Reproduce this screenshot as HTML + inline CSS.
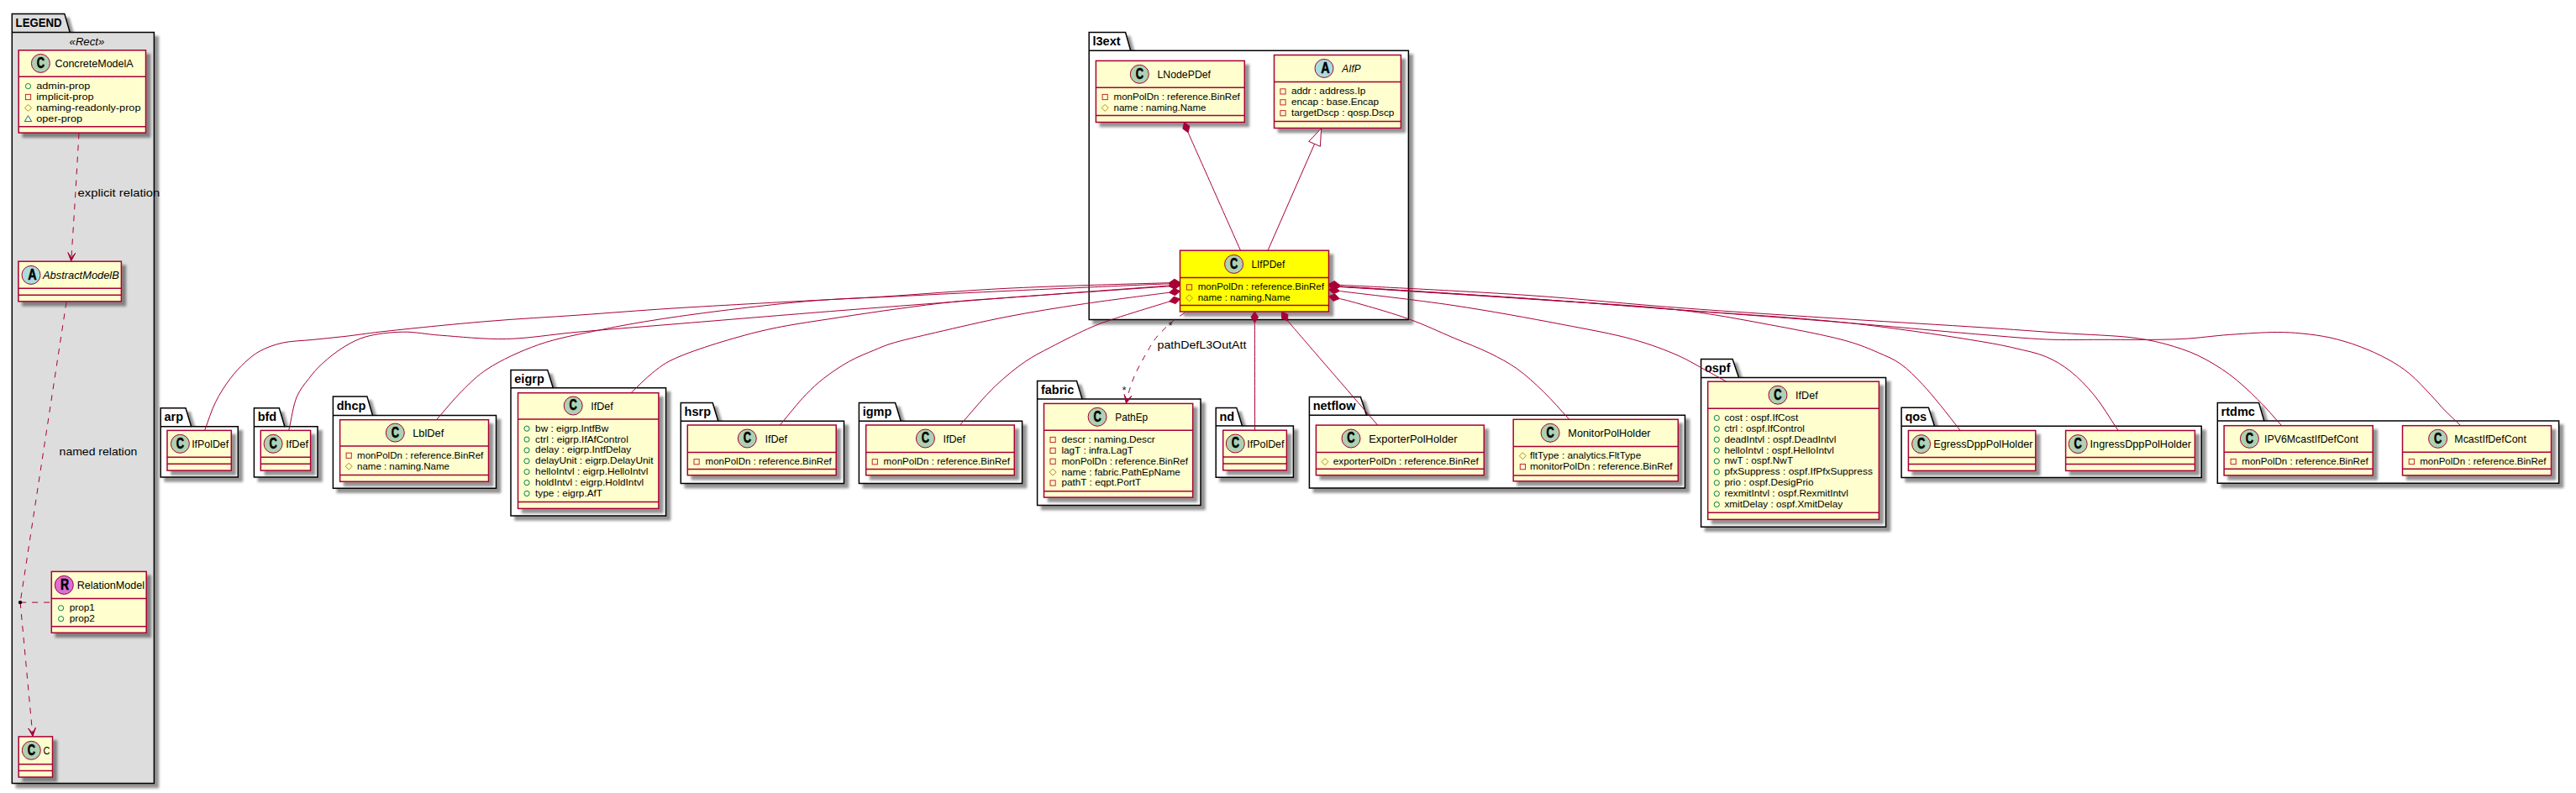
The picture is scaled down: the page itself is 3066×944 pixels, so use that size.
<!DOCTYPE html>
<html><head><meta charset="utf-8"><style>
html,body{margin:0;padding:0;background:#FFFFFF;}
svg{display:block;}
</style></head><body>
<svg width="3066" height="944" viewBox="0 0 3066 944">
<rect x="0" y="0" width="3066" height="944" fill="#FFFFFF"/>
<defs><filter id="sh" x="-20%" y="-20%" width="140%" height="140%">
<feGaussianBlur in="SourceAlpha" stdDeviation="1.6"/>
<feColorMatrix type="matrix" values="0 0 0 0 0  0 0 0 0 0  0 0 0 0 0  0 0 0 .42 0" result="b"/>
<feOffset dx="4.5" dy="4.5" result="o"/>
<feMerge><feMergeNode in="o"/><feMergeNode in="SourceGraphic"/></feMerge>
</filter></defs>
<g font-family='"Liberation Sans", sans-serif'>
<path d="M14.3,16.4 L76.8,16.4 L83.2,38.4 L183.4,38.4 L183.4,932.6 L14.3,932.6 Z" fill="#DDDDDD" stroke="#000" stroke-width="1.5" filter="url(#sh)"/>
<line x1="14.3" y1="38.4" x2="83.2" y2="38.4" stroke="#000" stroke-width="1.5"/>
<text x="18.6" y="32.1" font-size="14.5" font-weight="bold" font-style="normal" text-anchor="start" fill="#000" textLength="54.9" lengthAdjust="spacingAndGlyphs">LEGEND</text>
<path d="M1296.2,38.5 L1339.6,38.5 L1345.7,60.3 L1676.4,60.3 L1676.4,380.4 L1296.2,380.4 Z" fill="#FFFFFF" stroke="#000" stroke-width="1.5" filter="url(#sh)"/>
<line x1="1296.2" y1="60.3" x2="1345.7" y2="60.3" stroke="#000" stroke-width="1.5"/>
<text x="1300.5" y="54.0" font-size="14.5" font-weight="bold" font-style="normal" text-anchor="start" fill="#000">l3ext</text>
<path d="M191.2,485.7 L221.0,485.7 L227.7,507.7 L283.3,507.7 L283.3,568.0 L191.2,568.0 Z" fill="#FFFFFF" stroke="#000" stroke-width="1.5" filter="url(#sh)"/>
<line x1="191.2" y1="507.7" x2="227.7" y2="507.7" stroke="#000" stroke-width="1.5"/>
<text x="195.5" y="501.4" font-size="14.5" font-weight="bold" font-style="normal" text-anchor="start" fill="#000">arp</text>
<path d="M302.4,485.7 L332.3,485.7 L338.9,507.7 L378.0,507.7 L378.0,568.0 L302.4,568.0 Z" fill="#FFFFFF" stroke="#000" stroke-width="1.5" filter="url(#sh)"/>
<line x1="302.4" y1="507.7" x2="338.9" y2="507.7" stroke="#000" stroke-width="1.5"/>
<text x="306.7" y="501.4" font-size="14.5" font-weight="bold" font-style="normal" text-anchor="start" fill="#000">bfd</text>
<path d="M396.4,471.9 L436.9,471.9 L443.5,494.4 L590.5,494.4 L590.5,581.3 L396.4,581.3 Z" fill="#FFFFFF" stroke="#000" stroke-width="1.5" filter="url(#sh)"/>
<line x1="396.4" y1="494.4" x2="443.5" y2="494.4" stroke="#000" stroke-width="1.5"/>
<text x="400.7" y="488.1" font-size="14.5" font-weight="bold" font-style="normal" text-anchor="start" fill="#000">dhcp</text>
<path d="M608.0,440.4 L651.7,440.4 L658.3,461.8 L792.6,461.8 L792.6,614.1 L608.0,614.1 Z" fill="#FFFFFF" stroke="#000" stroke-width="1.5" filter="url(#sh)"/>
<line x1="608.0" y1="461.8" x2="658.3" y2="461.8" stroke="#000" stroke-width="1.5"/>
<text x="612.3" y="455.5" font-size="14.5" font-weight="bold" font-style="normal" text-anchor="start" fill="#000">eigrp</text>
<path d="M810.3,479.6 L848.2,479.6 L854.8,501.3 L1004.5,501.3 L1004.5,575.5 L810.3,575.5 Z" fill="#FFFFFF" stroke="#000" stroke-width="1.5" filter="url(#sh)"/>
<line x1="810.3" y1="501.3" x2="854.8" y2="501.3" stroke="#000" stroke-width="1.5"/>
<text x="814.6" y="495.0" font-size="14.5" font-weight="bold" font-style="normal" text-anchor="start" fill="#000">hsrp</text>
<path d="M1022.4,479.6 L1065.6,479.6 L1072.2,501.3 L1216.6,501.3 L1216.6,575.5 L1022.4,575.5 Z" fill="#FFFFFF" stroke="#000" stroke-width="1.5" filter="url(#sh)"/>
<line x1="1022.4" y1="501.3" x2="1072.2" y2="501.3" stroke="#000" stroke-width="1.5"/>
<text x="1026.7" y="495.0" font-size="14.5" font-weight="bold" font-style="normal" text-anchor="start" fill="#000">igmp</text>
<path d="M1234.6,453.6 L1281.5,453.6 L1288.0,475.1 L1429.0,475.1 L1429.0,601.4 L1234.6,601.4 Z" fill="#FFFFFF" stroke="#000" stroke-width="1.5" filter="url(#sh)"/>
<line x1="1234.6" y1="475.1" x2="1288.0" y2="475.1" stroke="#000" stroke-width="1.5"/>
<text x="1238.9" y="468.8" font-size="14.5" font-weight="bold" font-style="normal" text-anchor="start" fill="#000">fabric</text>
<path d="M1447.2,485.4 L1471.8,485.4 L1478.5,506.9 L1539.4,506.9 L1539.4,568.3 L1447.2,568.3 Z" fill="#FFFFFF" stroke="#000" stroke-width="1.5" filter="url(#sh)"/>
<line x1="1447.2" y1="506.9" x2="1478.5" y2="506.9" stroke="#000" stroke-width="1.5"/>
<text x="1451.5" y="500.6" font-size="14.5" font-weight="bold" font-style="normal" text-anchor="start" fill="#000">nd</text>
<path d="M1558.4,472.4 L1619.4,472.4 L1626.5,494.2 L2005.5,494.2 L2005.5,581.0 L1558.4,581.0 Z" fill="#FFFFFF" stroke="#000" stroke-width="1.5" filter="url(#sh)"/>
<line x1="1558.4" y1="494.2" x2="1626.5" y2="494.2" stroke="#000" stroke-width="1.5"/>
<text x="1562.7" y="487.9" font-size="14.5" font-weight="bold" font-style="normal" text-anchor="start" fill="#000">netflow</text>
<path d="M2024.6,427.6 L2062.1,427.6 L2069.6,449.4 L2244.6,449.4 L2244.6,627.3 L2024.6,627.3 Z" fill="#FFFFFF" stroke="#000" stroke-width="1.5" filter="url(#sh)"/>
<line x1="2024.6" y1="449.4" x2="2069.6" y2="449.4" stroke="#000" stroke-width="1.5"/>
<text x="2028.9" y="443.1" font-size="14.5" font-weight="bold" font-style="normal" text-anchor="start" fill="#000">ospf</text>
<path d="M2263.1,485.2 L2295.4,485.2 L2302.5,507.2 L2620.2,507.2 L2620.2,568.4 L2263.1,568.4 Z" fill="#FFFFFF" stroke="#000" stroke-width="1.5" filter="url(#sh)"/>
<line x1="2263.1" y1="507.2" x2="2302.5" y2="507.2" stroke="#000" stroke-width="1.5"/>
<text x="2267.4" y="500.9" font-size="14.5" font-weight="bold" font-style="normal" text-anchor="start" fill="#000">qos</text>
<path d="M2639.3,479.4 L2688.5,479.4 L2694.8,500.9 L3045.6,500.9 L3045.6,575.2 L2639.3,575.2 Z" fill="#FFFFFF" stroke="#000" stroke-width="1.5" filter="url(#sh)"/>
<line x1="2639.3" y1="500.9" x2="2694.8" y2="500.9" stroke="#000" stroke-width="1.5"/>
<text x="2643.6" y="494.6" font-size="14.5" font-weight="bold" font-style="normal" text-anchor="start" fill="#000">rtdmc</text>
<text x="82.6" y="53.7" font-size="13" font-weight="normal" font-style="italic" text-anchor="start" fill="#000" textLength="41.6" lengthAdjust="spacingAndGlyphs">«Rect»</text>
<rect x="22.2" y="59.8" width="151.3" height="98.3" fill="#FEFECE" stroke="#A80036" stroke-width="1.5" filter="url(#sh)"/>
<line x1="22.2" y1="91.3" x2="173.5" y2="91.3" stroke="#A80036" stroke-width="1.5"/>
<line x1="22.2" y1="150.8" x2="173.5" y2="150.8" stroke="#A80036" stroke-width="1.5"/>
<circle cx="48.4" cy="75.4" r="11" fill="#ADD1B2" stroke="#A80036" stroke-width="1"/>
<text transform="translate(48.40,80.80) scale(0.72,1)" x="-6.5" y="0" font-size="17.9" font-weight="bold" fill="#000" stroke="#000" stroke-width="0.55">C</text>
<text x="65.4" y="80.4" font-size="13.3" font-weight="normal" font-style="normal" text-anchor="start" fill="#000" textLength="93.3" lengthAdjust="spacingAndGlyphs">ConcreteModelA</text>
<circle cx="33.5" cy="102.6" r="3.1" fill="none" stroke="#038048" stroke-width="1"/>
<text x="43.3" y="106.0" font-size="11.5" font-weight="normal" font-style="normal" text-anchor="start" fill="#000" textLength="64.0" lengthAdjust="spacingAndGlyphs">admin-prop</text>
<rect x="30.4" y="112.4" width="6.2" height="6.2" fill="none" stroke="#C82930" stroke-width="1"/>
<text x="43.3" y="118.9" font-size="11.5" font-weight="normal" font-style="normal" text-anchor="start" fill="#000" textLength="68.2" lengthAdjust="spacingAndGlyphs">implicit-prop</text>
<path d="M33.5,124.4 L37.5,128.4 L33.5,132.4 L29.5,128.4 Z" fill="none" stroke="#B38D22" stroke-width="1"/>
<text x="43.3" y="131.8" font-size="11.5" font-weight="normal" font-style="normal" text-anchor="start" fill="#000" textLength="124.2" lengthAdjust="spacingAndGlyphs">naming-readonly-prop</text>
<path d="M33.5,137.6 L37.7,144.6 L29.3,144.6 Z" fill="none" stroke="#1963A0" stroke-width="1"/>
<text x="43.3" y="144.6" font-size="11.5" font-weight="normal" font-style="normal" text-anchor="start" fill="#000" textLength="54.8" lengthAdjust="spacingAndGlyphs">oper-prop</text>
<rect x="21.9" y="311.2" width="122.5" height="47.6" fill="#FEFECE" stroke="#A80036" stroke-width="1.5" filter="url(#sh)"/>
<line x1="21.9" y1="343.3" x2="144.4" y2="343.3" stroke="#A80036" stroke-width="1.5"/>
<line x1="21.9" y1="351.3" x2="144.4" y2="351.3" stroke="#A80036" stroke-width="1.5"/>
<circle cx="37.0" cy="327.4" r="11" fill="#A9DCDF" stroke="#A80036" stroke-width="1"/>
<text transform="translate(38.30,332.80) scale(0.8,1)" x="-6.4" y="0" font-size="17.9" font-weight="bold" fill="#000" stroke="#000" stroke-width="0.55">A</text>
<text x="51.0" y="331.8" font-size="13.3" font-weight="normal" font-style="italic" text-anchor="start" fill="#000" textLength="90.8" lengthAdjust="spacingAndGlyphs">AbstractModelB</text>
<rect x="61.3" y="680.4" width="112.9" height="72.9" fill="#FEFECE" stroke="#A80036" stroke-width="1.5" filter="url(#sh)"/>
<line x1="61.3" y1="712.5" x2="174.2" y2="712.5" stroke="#A80036" stroke-width="1.5"/>
<line x1="61.3" y1="745.8" x2="174.2" y2="745.8" stroke="#A80036" stroke-width="1.5"/>
<circle cx="76.3" cy="696.4" r="11" fill="#DA70D6" stroke="#A80036" stroke-width="1"/>
<text transform="translate(77.30,701.80) scale(0.78,1)" x="-6.8" y="0" font-size="17.9" font-weight="bold" fill="#000" stroke="#000" stroke-width="0.55">R</text>
<text x="91.7" y="701.0" font-size="13.3" font-weight="normal" font-style="normal" text-anchor="start" fill="#000" textLength="80.4" lengthAdjust="spacingAndGlyphs">RelationModel</text>
<circle cx="72.6" cy="723.8" r="3.1" fill="none" stroke="#038048" stroke-width="1"/>
<text x="82.8" y="727.2" font-size="11.5" font-weight="normal" font-style="normal" text-anchor="start" fill="#000" textLength="30.1" lengthAdjust="spacingAndGlyphs">prop1</text>
<circle cx="72.6" cy="736.7" r="3.1" fill="none" stroke="#038048" stroke-width="1"/>
<text x="82.8" y="740.1" font-size="11.5" font-weight="normal" font-style="normal" text-anchor="start" fill="#000" textLength="30.1" lengthAdjust="spacingAndGlyphs">prop2</text>
<rect x="22.2" y="876.9" width="40.3" height="48.2" fill="#FEFECE" stroke="#A80036" stroke-width="1.5" filter="url(#sh)"/>
<line x1="22.2" y1="909.7" x2="62.5" y2="909.7" stroke="#A80036" stroke-width="1.5"/>
<line x1="22.2" y1="917.5" x2="62.5" y2="917.5" stroke="#A80036" stroke-width="1.5"/>
<circle cx="37.3" cy="893.3" r="11" fill="#ADD1B2" stroke="#A80036" stroke-width="1"/>
<text transform="translate(37.30,898.70) scale(0.72,1)" x="-6.5" y="0" font-size="17.9" font-weight="bold" fill="#000" stroke="#000" stroke-width="0.55">C</text>
<text x="51.5" y="897.5" font-size="13.3" font-weight="normal" font-style="normal" text-anchor="start" fill="#000" textLength="8.0" lengthAdjust="spacingAndGlyphs">C</text>
<rect x="1304.4" y="72.4" width="176.9" height="73.1" fill="#FEFECE" stroke="#A80036" stroke-width="1.5" filter="url(#sh)"/>
<line x1="1304.4" y1="104.2" x2="1481.3" y2="104.2" stroke="#A80036" stroke-width="1.5"/>
<line x1="1304.4" y1="137.5" x2="1481.3" y2="137.5" stroke="#A80036" stroke-width="1.5"/>
<circle cx="1356.3" cy="88.3" r="11" fill="#ADD1B2" stroke="#A80036" stroke-width="1"/>
<text transform="translate(1356.30,93.70) scale(0.72,1)" x="-6.5" y="0" font-size="17.9" font-weight="bold" fill="#000" stroke="#000" stroke-width="0.55">C</text>
<text x="1377.5" y="93.0" font-size="13.3" font-weight="normal" font-style="normal" text-anchor="start" fill="#000" textLength="63.5" lengthAdjust="spacingAndGlyphs">LNodePDef</text>
<rect x="1312.1" y="112.4" width="6.2" height="6.2" fill="none" stroke="#C82930" stroke-width="1"/>
<text x="1325.5" y="118.9" font-size="11.5" font-weight="normal" font-style="normal" text-anchor="start" fill="#000" textLength="150.3" lengthAdjust="spacingAndGlyphs">monPolDn : reference.BinRef</text>
<path d="M1315.2,124.4 L1319.2,128.4 L1315.2,132.4 L1311.2,128.4 Z" fill="none" stroke="#B38D22" stroke-width="1"/>
<text x="1325.5" y="131.8" font-size="11.5" font-weight="normal" font-style="normal" text-anchor="start" fill="#000" textLength="110.0" lengthAdjust="spacingAndGlyphs">name : naming.Name</text>
<rect x="1516.5" y="65.5" width="150.9" height="87.0" fill="#FEFECE" stroke="#A80036" stroke-width="1.5" filter="url(#sh)"/>
<line x1="1516.5" y1="97.6" x2="1667.4" y2="97.6" stroke="#A80036" stroke-width="1.5"/>
<line x1="1516.5" y1="144.4" x2="1667.4" y2="144.4" stroke="#A80036" stroke-width="1.5"/>
<circle cx="1576.0" cy="81.4" r="11" fill="#A9DCDF" stroke="#A80036" stroke-width="1"/>
<text transform="translate(1577.30,86.80) scale(0.8,1)" x="-6.4" y="0" font-size="17.9" font-weight="bold" fill="#000" stroke="#000" stroke-width="0.55">A</text>
<text x="1597.3" y="86.1" font-size="13.3" font-weight="normal" font-style="italic" text-anchor="start" fill="#000" textLength="22.2" lengthAdjust="spacingAndGlyphs">AIfP</text>
<rect x="1523.9" y="105.8" width="6.2" height="6.2" fill="none" stroke="#C82930" stroke-width="1"/>
<text x="1536.9" y="112.3" font-size="11.5" font-weight="normal" font-style="normal" text-anchor="start" fill="#000" textLength="88.5" lengthAdjust="spacingAndGlyphs">addr : address.Ip</text>
<rect x="1523.9" y="118.7" width="6.2" height="6.2" fill="none" stroke="#C82930" stroke-width="1"/>
<text x="1536.9" y="125.2" font-size="11.5" font-weight="normal" font-style="normal" text-anchor="start" fill="#000" textLength="104.2" lengthAdjust="spacingAndGlyphs">encap : base.Encap</text>
<rect x="1523.9" y="131.6" width="6.2" height="6.2" fill="none" stroke="#C82930" stroke-width="1"/>
<text x="1536.9" y="138.1" font-size="11.5" font-weight="normal" font-style="normal" text-anchor="start" fill="#000" textLength="122.5" lengthAdjust="spacingAndGlyphs">targetDscp : qosp.Dscp</text>
<rect x="1404.5" y="298.2" width="177.0" height="72.8" fill="#FFFF00" stroke="#A80036" stroke-width="1.5" filter="url(#sh)"/>
<line x1="1404.5" y1="330.6" x2="1581.5" y2="330.6" stroke="#A80036" stroke-width="1.5"/>
<line x1="1404.5" y1="363.4" x2="1581.5" y2="363.4" stroke="#A80036" stroke-width="1.5"/>
<circle cx="1468.6" cy="314.4" r="11" fill="#ADD1B2" stroke="#A80036" stroke-width="1"/>
<text transform="translate(1468.60,319.80) scale(0.72,1)" x="-6.5" y="0" font-size="17.9" font-weight="bold" fill="#000" stroke="#000" stroke-width="0.55">C</text>
<text x="1489.4" y="318.8" font-size="13.3" font-weight="normal" font-style="normal" text-anchor="start" fill="#000" textLength="39.9" lengthAdjust="spacingAndGlyphs">LIfPDef</text>
<rect x="1412.4" y="338.8" width="6.2" height="6.2" fill="none" stroke="#C82930" stroke-width="1"/>
<text x="1425.7" y="345.3" font-size="11.5" font-weight="normal" font-style="normal" text-anchor="start" fill="#000" textLength="150.3" lengthAdjust="spacingAndGlyphs">monPolDn : reference.BinRef</text>
<path d="M1415.5,350.8 L1419.5,354.8 L1415.5,358.8 L1411.5,354.8 Z" fill="none" stroke="#B38D22" stroke-width="1"/>
<text x="1425.7" y="358.2" font-size="11.5" font-weight="normal" font-style="normal" text-anchor="start" fill="#000" textLength="110.0" lengthAdjust="spacingAndGlyphs">name : naming.Name</text>
<rect x="199.0" y="512.4" width="76.3" height="47.7" fill="#FEFECE" stroke="#A80036" stroke-width="1.5" filter="url(#sh)"/>
<line x1="199.0" y1="544.2" x2="275.3" y2="544.2" stroke="#A80036" stroke-width="1.5"/>
<line x1="199.0" y1="552.2" x2="275.3" y2="552.2" stroke="#A80036" stroke-width="1.5"/>
<circle cx="214.4" cy="528.3" r="11" fill="#ADD1B2" stroke="#A80036" stroke-width="1"/>
<text transform="translate(214.40,533.70) scale(0.72,1)" x="-6.5" y="0" font-size="17.9" font-weight="bold" fill="#000" stroke="#000" stroke-width="0.55">C</text>
<text x="228.2" y="533.0" font-size="13.3" font-weight="normal" font-style="normal" text-anchor="start" fill="#000" textLength="44.0" lengthAdjust="spacingAndGlyphs">IfPolDef</text>
<rect x="310.3" y="512.4" width="59.3" height="47.7" fill="#FEFECE" stroke="#A80036" stroke-width="1.5" filter="url(#sh)"/>
<line x1="310.3" y1="544.2" x2="369.6" y2="544.2" stroke="#A80036" stroke-width="1.5"/>
<line x1="310.3" y1="552.2" x2="369.6" y2="552.2" stroke="#A80036" stroke-width="1.5"/>
<circle cx="325.1" cy="528.3" r="11" fill="#ADD1B2" stroke="#A80036" stroke-width="1"/>
<text transform="translate(325.10,533.70) scale(0.72,1)" x="-6.5" y="0" font-size="17.9" font-weight="bold" fill="#000" stroke="#000" stroke-width="0.55">C</text>
<text x="340.2" y="533.0" font-size="13.3" font-weight="normal" font-style="normal" text-anchor="start" fill="#000" textLength="26.8" lengthAdjust="spacingAndGlyphs">IfDef</text>
<rect x="404.6" y="499.7" width="176.9" height="73.6" fill="#FEFECE" stroke="#A80036" stroke-width="1.5" filter="url(#sh)"/>
<line x1="404.6" y1="531.0" x2="581.5" y2="531.0" stroke="#A80036" stroke-width="1.5"/>
<line x1="404.6" y1="565.4" x2="581.5" y2="565.4" stroke="#A80036" stroke-width="1.5"/>
<circle cx="470.3" cy="515.1" r="11" fill="#ADD1B2" stroke="#A80036" stroke-width="1"/>
<text transform="translate(470.30,520.50) scale(0.72,1)" x="-6.5" y="0" font-size="17.9" font-weight="bold" fill="#000" stroke="#000" stroke-width="0.55">C</text>
<text x="491.2" y="520.3" font-size="13.3" font-weight="normal" font-style="normal" text-anchor="start" fill="#000" textLength="37.1" lengthAdjust="spacingAndGlyphs">LblDef</text>
<rect x="412.1" y="539.2" width="6.2" height="6.2" fill="none" stroke="#C82930" stroke-width="1"/>
<text x="425.0" y="545.7" font-size="11.5" font-weight="normal" font-style="normal" text-anchor="start" fill="#000" textLength="150.3" lengthAdjust="spacingAndGlyphs">monPolDn : reference.BinRef</text>
<path d="M415.2,551.2 L419.2,555.2 L415.2,559.2 L411.2,555.2 Z" fill="none" stroke="#B38D22" stroke-width="1"/>
<text x="425.0" y="558.6" font-size="11.5" font-weight="normal" font-style="normal" text-anchor="start" fill="#000" textLength="110.0" lengthAdjust="spacingAndGlyphs">name : naming.Name</text>
<rect x="616.5" y="467.7" width="167.4" height="137.7" fill="#FEFECE" stroke="#A80036" stroke-width="1.5" filter="url(#sh)"/>
<line x1="616.5" y1="498.9" x2="783.9" y2="498.9" stroke="#A80036" stroke-width="1.5"/>
<line x1="616.5" y1="597.4" x2="783.9" y2="597.4" stroke="#A80036" stroke-width="1.5"/>
<circle cx="682.2" cy="483.0" r="11" fill="#ADD1B2" stroke="#A80036" stroke-width="1"/>
<text transform="translate(682.20,488.40) scale(0.72,1)" x="-6.5" y="0" font-size="17.9" font-weight="bold" fill="#000" stroke="#000" stroke-width="0.55">C</text>
<text x="703.3" y="488.3" font-size="13.3" font-weight="normal" font-style="normal" text-anchor="start" fill="#000" textLength="26.5" lengthAdjust="spacingAndGlyphs">IfDef</text>
<circle cx="627.0" cy="510.2" r="3.1" fill="none" stroke="#038048" stroke-width="1"/>
<text x="637.1" y="513.6" font-size="11.5" font-weight="normal" font-style="normal" text-anchor="start" fill="#000" textLength="87.1" lengthAdjust="spacingAndGlyphs">bw : eigrp.IntfBw</text>
<circle cx="627.0" cy="523.1" r="3.1" fill="none" stroke="#038048" stroke-width="1"/>
<text x="637.1" y="526.5" font-size="11.5" font-weight="normal" font-style="normal" text-anchor="start" fill="#000" textLength="110.7" lengthAdjust="spacingAndGlyphs">ctrl : eigrp.IfAfControl</text>
<circle cx="627.0" cy="536.0" r="3.1" fill="none" stroke="#038048" stroke-width="1"/>
<text x="637.1" y="539.4" font-size="11.5" font-weight="normal" font-style="normal" text-anchor="start" fill="#000" textLength="114.0" lengthAdjust="spacingAndGlyphs">delay : eigrp.IntfDelay</text>
<circle cx="627.0" cy="548.8" r="3.1" fill="none" stroke="#038048" stroke-width="1"/>
<text x="637.1" y="552.2" font-size="11.5" font-weight="normal" font-style="normal" text-anchor="start" fill="#000" textLength="140.4" lengthAdjust="spacingAndGlyphs">delayUnit : eigrp.DelayUnit</text>
<circle cx="627.0" cy="561.7" r="3.1" fill="none" stroke="#038048" stroke-width="1"/>
<text x="637.1" y="565.1" font-size="11.5" font-weight="normal" font-style="normal" text-anchor="start" fill="#000" textLength="134.3" lengthAdjust="spacingAndGlyphs">helloIntvl : eigrp.HelloIntvl</text>
<circle cx="627.0" cy="574.6" r="3.1" fill="none" stroke="#038048" stroke-width="1"/>
<text x="637.1" y="578.0" font-size="11.5" font-weight="normal" font-style="normal" text-anchor="start" fill="#000" textLength="129.1" lengthAdjust="spacingAndGlyphs">holdIntvl : eigrp.HoldIntvl</text>
<circle cx="627.0" cy="587.5" r="3.1" fill="none" stroke="#038048" stroke-width="1"/>
<text x="637.1" y="590.9" font-size="11.5" font-weight="normal" font-style="normal" text-anchor="start" fill="#000" textLength="79.9" lengthAdjust="spacingAndGlyphs">type : eigrp.AfT</text>
<rect x="818.3" y="506.0" width="176.9" height="59.7" fill="#FEFECE" stroke="#A80036" stroke-width="1.5" filter="url(#sh)"/>
<line x1="818.3" y1="538.4" x2="995.2" y2="538.4" stroke="#A80036" stroke-width="1.5"/>
<line x1="818.3" y1="558.5" x2="995.2" y2="558.5" stroke="#A80036" stroke-width="1.5"/>
<circle cx="889.3" cy="522.0" r="11" fill="#ADD1B2" stroke="#A80036" stroke-width="1"/>
<text transform="translate(889.30,527.40) scale(0.72,1)" x="-6.5" y="0" font-size="17.9" font-weight="bold" fill="#000" stroke="#000" stroke-width="0.55">C</text>
<text x="910.4" y="526.6" font-size="13.3" font-weight="normal" font-style="normal" text-anchor="start" fill="#000" textLength="26.6" lengthAdjust="spacingAndGlyphs">IfDef</text>
<rect x="826.0" y="546.6" width="6.2" height="6.2" fill="none" stroke="#C82930" stroke-width="1"/>
<text x="839.5" y="553.1" font-size="11.5" font-weight="normal" font-style="normal" text-anchor="start" fill="#000" textLength="150.3" lengthAdjust="spacingAndGlyphs">monPolDn : reference.BinRef</text>
<rect x="1030.7" y="506.0" width="176.6" height="59.7" fill="#FEFECE" stroke="#A80036" stroke-width="1.5" filter="url(#sh)"/>
<line x1="1030.7" y1="538.4" x2="1207.3" y2="538.4" stroke="#A80036" stroke-width="1.5"/>
<line x1="1030.7" y1="558.5" x2="1207.3" y2="558.5" stroke="#A80036" stroke-width="1.5"/>
<circle cx="1101.4" cy="522.0" r="11" fill="#ADD1B2" stroke="#A80036" stroke-width="1"/>
<text transform="translate(1101.40,527.40) scale(0.72,1)" x="-6.5" y="0" font-size="17.9" font-weight="bold" fill="#000" stroke="#000" stroke-width="0.55">C</text>
<text x="1122.6" y="526.6" font-size="13.3" font-weight="normal" font-style="normal" text-anchor="start" fill="#000" textLength="26.4" lengthAdjust="spacingAndGlyphs">IfDef</text>
<rect x="1038.2" y="546.6" width="6.2" height="6.2" fill="none" stroke="#C82930" stroke-width="1"/>
<text x="1051.6" y="553.1" font-size="11.5" font-weight="normal" font-style="normal" text-anchor="start" fill="#000" textLength="150.3" lengthAdjust="spacingAndGlyphs">monPolDn : reference.BinRef</text>
<rect x="1242.5" y="480.4" width="177.2" height="111.7" fill="#FEFECE" stroke="#A80036" stroke-width="1.5" filter="url(#sh)"/>
<line x1="1242.5" y1="512.2" x2="1419.7" y2="512.2" stroke="#A80036" stroke-width="1.5"/>
<line x1="1242.5" y1="584.7" x2="1419.7" y2="584.7" stroke="#A80036" stroke-width="1.5"/>
<circle cx="1306.1" cy="496.3" r="11" fill="#ADD1B2" stroke="#A80036" stroke-width="1"/>
<text transform="translate(1306.10,501.70) scale(0.72,1)" x="-6.5" y="0" font-size="17.9" font-weight="bold" fill="#000" stroke="#000" stroke-width="0.55">C</text>
<text x="1327.3" y="501.0" font-size="13.3" font-weight="normal" font-style="normal" text-anchor="start" fill="#000" textLength="38.9" lengthAdjust="spacingAndGlyphs">PathEp</text>
<rect x="1250.0" y="520.4" width="6.2" height="6.2" fill="none" stroke="#C82930" stroke-width="1"/>
<text x="1263.4" y="526.9" font-size="11.5" font-weight="normal" font-style="normal" text-anchor="start" fill="#000" textLength="111.4" lengthAdjust="spacingAndGlyphs">descr : naming.Descr</text>
<rect x="1250.0" y="533.3" width="6.2" height="6.2" fill="none" stroke="#C82930" stroke-width="1"/>
<text x="1263.4" y="539.8" font-size="11.5" font-weight="normal" font-style="normal" text-anchor="start" fill="#000" textLength="85.6" lengthAdjust="spacingAndGlyphs">lagT : infra.LagT</text>
<rect x="1250.0" y="546.2" width="6.2" height="6.2" fill="none" stroke="#C82930" stroke-width="1"/>
<text x="1263.4" y="552.7" font-size="11.5" font-weight="normal" font-style="normal" text-anchor="start" fill="#000" textLength="150.5" lengthAdjust="spacingAndGlyphs">monPolDn : reference.BinRef</text>
<path d="M1253.1,558.1 L1257.1,562.1 L1253.1,566.1 L1249.1,562.1 Z" fill="none" stroke="#B38D22" stroke-width="1"/>
<text x="1263.4" y="565.5" font-size="11.5" font-weight="normal" font-style="normal" text-anchor="start" fill="#000" textLength="141.5" lengthAdjust="spacingAndGlyphs">name : fabric.PathEpName</text>
<rect x="1250.0" y="571.9" width="6.2" height="6.2" fill="none" stroke="#C82930" stroke-width="1"/>
<text x="1263.4" y="578.4" font-size="11.5" font-weight="normal" font-style="normal" text-anchor="start" fill="#000" textLength="94.8" lengthAdjust="spacingAndGlyphs">pathT : eqpt.PortT</text>
<rect x="1455.7" y="512.2" width="75.7" height="47.6" fill="#FEFECE" stroke="#A80036" stroke-width="1.5" filter="url(#sh)"/>
<line x1="1455.7" y1="544.0" x2="1531.4" y2="544.0" stroke="#A80036" stroke-width="1.5"/>
<line x1="1455.7" y1="551.9" x2="1531.4" y2="551.9" stroke="#A80036" stroke-width="1.5"/>
<circle cx="1470.3" cy="528.0" r="11" fill="#ADD1B2" stroke="#A80036" stroke-width="1"/>
<text transform="translate(1470.30,533.40) scale(0.72,1)" x="-6.5" y="0" font-size="17.9" font-weight="bold" fill="#000" stroke="#000" stroke-width="0.55">C</text>
<text x="1484.3" y="532.8" font-size="13.3" font-weight="normal" font-style="normal" text-anchor="start" fill="#000" textLength="44.2" lengthAdjust="spacingAndGlyphs">IfPolDef</text>
<rect x="1566.4" y="506.1" width="199.9" height="59.6" fill="#FEFECE" stroke="#A80036" stroke-width="1.5" filter="url(#sh)"/>
<line x1="1566.4" y1="538.4" x2="1766.3" y2="538.4" stroke="#A80036" stroke-width="1.5"/>
<line x1="1566.4" y1="558.2" x2="1766.3" y2="558.2" stroke="#A80036" stroke-width="1.5"/>
<circle cx="1608.0" cy="522.0" r="11" fill="#ADD1B2" stroke="#A80036" stroke-width="1"/>
<text transform="translate(1608.00,527.40) scale(0.72,1)" x="-6.5" y="0" font-size="17.9" font-weight="bold" fill="#000" stroke="#000" stroke-width="0.55">C</text>
<text x="1629.2" y="526.7" font-size="13.3" font-weight="normal" font-style="normal" text-anchor="start" fill="#000" textLength="105.4" lengthAdjust="spacingAndGlyphs">ExporterPolHolder</text>
<path d="M1577.0,545.7 L1581.0,549.7 L1577.0,553.7 L1573.0,549.7 Z" fill="none" stroke="#B38D22" stroke-width="1"/>
<text x="1586.8" y="553.1" font-size="11.5" font-weight="normal" font-style="normal" text-anchor="start" fill="#000" textLength="172.9" lengthAdjust="spacingAndGlyphs">exporterPolDn : reference.BinRef</text>
<rect x="1801.2" y="499.3" width="196.1" height="73.5" fill="#FEFECE" stroke="#A80036" stroke-width="1.5" filter="url(#sh)"/>
<line x1="1801.2" y1="531.4" x2="1997.3" y2="531.4" stroke="#A80036" stroke-width="1.5"/>
<line x1="1801.2" y1="565.9" x2="1997.3" y2="565.9" stroke="#A80036" stroke-width="1.5"/>
<circle cx="1845.1" cy="515.3" r="11" fill="#ADD1B2" stroke="#A80036" stroke-width="1"/>
<text transform="translate(1845.10,520.70) scale(0.72,1)" x="-6.5" y="0" font-size="17.9" font-weight="bold" fill="#000" stroke="#000" stroke-width="0.55">C</text>
<text x="1866.3" y="519.9" font-size="13.3" font-weight="normal" font-style="normal" text-anchor="start" fill="#000" textLength="98.3" lengthAdjust="spacingAndGlyphs">MonitorPolHolder</text>
<path d="M1812.4,538.7 L1816.4,542.7 L1812.4,546.7 L1808.4,542.7 Z" fill="none" stroke="#B38D22" stroke-width="1"/>
<text x="1820.9" y="546.1" font-size="11.5" font-weight="normal" font-style="normal" text-anchor="start" fill="#000" textLength="132.3" lengthAdjust="spacingAndGlyphs">fltType : analytics.FltType</text>
<rect x="1809.3" y="552.5" width="6.2" height="6.2" fill="none" stroke="#C82930" stroke-width="1"/>
<text x="1820.9" y="559.0" font-size="11.5" font-weight="normal" font-style="normal" text-anchor="start" fill="#000" textLength="169.7" lengthAdjust="spacingAndGlyphs">monitorPolDn : reference.BinRef</text>
<rect x="2032.7" y="454.2" width="203.7" height="164.2" fill="#FEFECE" stroke="#A80036" stroke-width="1.5" filter="url(#sh)"/>
<line x1="2032.7" y1="486.2" x2="2236.4" y2="486.2" stroke="#A80036" stroke-width="1.5"/>
<line x1="2032.7" y1="610.3" x2="2236.4" y2="610.3" stroke="#A80036" stroke-width="1.5"/>
<circle cx="2116.0" cy="470.2" r="11" fill="#ADD1B2" stroke="#A80036" stroke-width="1"/>
<text transform="translate(2116.00,475.60) scale(0.72,1)" x="-6.5" y="0" font-size="17.9" font-weight="bold" fill="#000" stroke="#000" stroke-width="0.55">C</text>
<text x="2137.1" y="474.8" font-size="13.3" font-weight="normal" font-style="normal" text-anchor="start" fill="#000" textLength="26.7" lengthAdjust="spacingAndGlyphs">IfDef</text>
<circle cx="2043.3" cy="497.5" r="3.1" fill="none" stroke="#038048" stroke-width="1"/>
<text x="2052.4" y="500.9" font-size="11.5" font-weight="normal" font-style="normal" text-anchor="start" fill="#000" textLength="87.8" lengthAdjust="spacingAndGlyphs">cost : ospf.IfCost</text>
<circle cx="2043.3" cy="510.4" r="3.1" fill="none" stroke="#038048" stroke-width="1"/>
<text x="2052.4" y="513.8" font-size="11.5" font-weight="normal" font-style="normal" text-anchor="start" fill="#000" textLength="95.6" lengthAdjust="spacingAndGlyphs">ctrl : ospf.IfControl</text>
<circle cx="2043.3" cy="523.3" r="3.1" fill="none" stroke="#038048" stroke-width="1"/>
<text x="2052.4" y="526.7" font-size="11.5" font-weight="normal" font-style="normal" text-anchor="start" fill="#000" textLength="133.0" lengthAdjust="spacingAndGlyphs">deadIntvl : ospf.DeadIntvl</text>
<circle cx="2043.3" cy="536.1" r="3.1" fill="none" stroke="#038048" stroke-width="1"/>
<text x="2052.4" y="539.5" font-size="11.5" font-weight="normal" font-style="normal" text-anchor="start" fill="#000" textLength="130.4" lengthAdjust="spacingAndGlyphs">helloIntvl : ospf.HelloIntvl</text>
<circle cx="2043.3" cy="549.0" r="3.1" fill="none" stroke="#038048" stroke-width="1"/>
<text x="2052.4" y="552.4" font-size="11.5" font-weight="normal" font-style="normal" text-anchor="start" fill="#000" textLength="81.7" lengthAdjust="spacingAndGlyphs">nwT : ospf.NwT</text>
<circle cx="2043.3" cy="561.9" r="3.1" fill="none" stroke="#038048" stroke-width="1"/>
<text x="2052.4" y="565.3" font-size="11.5" font-weight="normal" font-style="normal" text-anchor="start" fill="#000" textLength="176.5" lengthAdjust="spacingAndGlyphs">pfxSuppress : ospf.IfPfxSuppress</text>
<circle cx="2043.3" cy="574.8" r="3.1" fill="none" stroke="#038048" stroke-width="1"/>
<text x="2052.4" y="578.2" font-size="11.5" font-weight="normal" font-style="normal" text-anchor="start" fill="#000" textLength="106.1" lengthAdjust="spacingAndGlyphs">prio : ospf.DesigPrio</text>
<circle cx="2043.3" cy="587.7" r="3.1" fill="none" stroke="#038048" stroke-width="1"/>
<text x="2052.4" y="591.1" font-size="11.5" font-weight="normal" font-style="normal" text-anchor="start" fill="#000" textLength="147.4" lengthAdjust="spacingAndGlyphs">rexmitIntvl : ospf.RexmitIntvl</text>
<circle cx="2043.3" cy="600.5" r="3.1" fill="none" stroke="#038048" stroke-width="1"/>
<text x="2052.4" y="603.9" font-size="11.5" font-weight="normal" font-style="normal" text-anchor="start" fill="#000" textLength="140.8" lengthAdjust="spacingAndGlyphs">xmitDelay : ospf.XmitDelay</text>
<rect x="2271.4" y="512.5" width="151.4" height="47.9" fill="#FEFECE" stroke="#A80036" stroke-width="1.5" filter="url(#sh)"/>
<line x1="2271.4" y1="544.5" x2="2422.8" y2="544.5" stroke="#A80036" stroke-width="1.5"/>
<line x1="2271.4" y1="552.6" x2="2422.8" y2="552.6" stroke="#A80036" stroke-width="1.5"/>
<circle cx="2286.6" cy="528.6" r="11" fill="#ADD1B2" stroke="#A80036" stroke-width="1"/>
<text transform="translate(2286.60,534.00) scale(0.72,1)" x="-6.5" y="0" font-size="17.9" font-weight="bold" fill="#000" stroke="#000" stroke-width="0.55">C</text>
<text x="2301.2" y="533.1" font-size="13.3" font-weight="normal" font-style="normal" text-anchor="start" fill="#000" textLength="118.3" lengthAdjust="spacingAndGlyphs">EgressDppPolHolder</text>
<rect x="2458.6" y="512.5" width="153.8" height="47.9" fill="#FEFECE" stroke="#A80036" stroke-width="1.5" filter="url(#sh)"/>
<line x1="2458.6" y1="544.5" x2="2612.4" y2="544.5" stroke="#A80036" stroke-width="1.5"/>
<line x1="2458.6" y1="552.6" x2="2612.4" y2="552.6" stroke="#A80036" stroke-width="1.5"/>
<circle cx="2473.2" cy="528.6" r="11" fill="#ADD1B2" stroke="#A80036" stroke-width="1"/>
<text transform="translate(2473.20,534.00) scale(0.72,1)" x="-6.5" y="0" font-size="17.9" font-weight="bold" fill="#000" stroke="#000" stroke-width="0.55">C</text>
<text x="2487.6" y="533.1" font-size="13.3" font-weight="normal" font-style="normal" text-anchor="start" fill="#000" textLength="120.5" lengthAdjust="spacingAndGlyphs">IngressDppPolHolder</text>
<rect x="2647.1" y="506.7" width="177.1" height="59.2" fill="#FEFECE" stroke="#A80036" stroke-width="1.5" filter="url(#sh)"/>
<line x1="2647.1" y1="538.2" x2="2824.2" y2="538.2" stroke="#A80036" stroke-width="1.5"/>
<line x1="2647.1" y1="558.3" x2="2824.2" y2="558.3" stroke="#A80036" stroke-width="1.5"/>
<circle cx="2677.4" cy="522.3" r="11" fill="#ADD1B2" stroke="#A80036" stroke-width="1"/>
<text transform="translate(2677.40,527.70) scale(0.72,1)" x="-6.5" y="0" font-size="17.9" font-weight="bold" fill="#000" stroke="#000" stroke-width="0.55">C</text>
<text x="2695.0" y="527.3" font-size="13.3" font-weight="normal" font-style="normal" text-anchor="start" fill="#000" textLength="112.0" lengthAdjust="spacingAndGlyphs">IPV6McastIfDefCont</text>
<rect x="2655.1" y="546.4" width="6.2" height="6.2" fill="none" stroke="#C82930" stroke-width="1"/>
<text x="2668.3" y="552.9" font-size="11.5" font-weight="normal" font-style="normal" text-anchor="start" fill="#000" textLength="150.3" lengthAdjust="spacingAndGlyphs">monPolDn : reference.BinRef</text>
<rect x="2859.5" y="506.7" width="177.0" height="59.2" fill="#FEFECE" stroke="#A80036" stroke-width="1.5" filter="url(#sh)"/>
<line x1="2859.5" y1="538.2" x2="3036.5" y2="538.2" stroke="#A80036" stroke-width="1.5"/>
<line x1="2859.5" y1="558.3" x2="3036.5" y2="558.3" stroke="#A80036" stroke-width="1.5"/>
<circle cx="2901.6" cy="522.3" r="11" fill="#ADD1B2" stroke="#A80036" stroke-width="1"/>
<text transform="translate(2901.60,527.70) scale(0.72,1)" x="-6.5" y="0" font-size="17.9" font-weight="bold" fill="#000" stroke="#000" stroke-width="0.55">C</text>
<text x="2921.3" y="527.3" font-size="13.3" font-weight="normal" font-style="normal" text-anchor="start" fill="#000" textLength="85.7" lengthAdjust="spacingAndGlyphs">McastIfDefCont</text>
<rect x="2867.2" y="546.4" width="6.2" height="6.2" fill="none" stroke="#C82930" stroke-width="1"/>
<text x="2880.2" y="552.9" font-size="11.5" font-weight="normal" font-style="normal" text-anchor="start" fill="#000" textLength="150.3" lengthAdjust="spacingAndGlyphs">monPolDn : reference.BinRef</text>
<path d="M94.0,158.5 C92.5,184.0 91.1,209.6 89.5,235.0 C88.0,260.3 86.3,285.5 84.7,310.8" fill="none" stroke="#A80036" stroke-width="1" stroke-dasharray="7,7"/>
<path d="M84.7,310.8 L80.8,300.5 L85.0,306.8 L89.8,301.1 Z" fill="#A80036" stroke="#A80036" stroke-width="1"/>
<path d="M79.0,359.5 L24.1,717.1" fill="none" stroke="#A80036" stroke-width="1" stroke-dasharray="7,7"/>
<path d="M24.1,717.1 L39.0,876.5" fill="none" stroke="#A80036" stroke-width="1" stroke-dasharray="7,7"/>
<path d="M39.0,876.5 L33.6,867.0 L38.6,872.5 L42.5,866.1 Z" fill="#A80036" stroke="#A80036" stroke-width="1"/>
<path d="M24.1,717.1 L61.3,717.1" fill="none" stroke="#A80036" stroke-width="1" stroke-dasharray="7,7"/>
<circle cx="24.1" cy="717.1" r="2.2" fill="#000"/>
<text x="92.6" y="233.9" font-size="13.5" textLength="97.6" lengthAdjust="spacingAndGlyphs" fill="#000">explicit relation</text>
<text x="70.6" y="542.0" font-size="13.5" textLength="92.7" lengthAdjust="spacingAndGlyphs" fill="#000">named relation</text>
<path d="M1409.6,145.6 L1407.8,153.2 L1414.1,157.8 L1415.9,150.2 Z" fill="#A80036" stroke="#A80036" stroke-width="1"/>
<path d="M1414.1,157.8 C1414.1,157.7 1414.0,157.6 1414.0,157.6 C1414.1,157.6 1455.7,251.3 1476.5,298.2" fill="none" stroke="#A80036" stroke-width="1"/>
<path d="M1572.6,153.0 L1557.7,168.3 L1571.4,174.3 Z" fill="#FFFFFF" stroke="#A80036" stroke-width="1"/>
<line x1="1564.6" y1="171.3" x2="1509.0" y2="298.2" stroke="#A80036" stroke-width="1"/>
<path d="M1404.5,337.0 L1397.7,333.1 L1391.5,337.8 L1398.3,341.7 Z" fill="#A80036" stroke="#A80036" stroke-width="1"/>
<path d="M1391.5,337.8 C1391.7,337.8 1392.0,337.8 1392.0,337.8 C1392.0,337.7 1259.7,343.5 1200.0,346.3 C1147.7,348.7 1089.8,351.7 1053.0,353.5 C1030.9,354.6 1023.3,354.8 1000.0,356.0 C954.7,358.3 856.8,363.5 800.0,367.1 C757.9,369.8 726.7,372.4 690.0,375.0 C653.3,377.6 618.0,379.3 580.0,382.5 C539.1,385.9 484.0,391.5 452.9,395.0 C434.8,397.1 424.0,398.9 410.0,400.5 C396.8,402.0 383.8,403.2 371.2,404.5 C359.2,405.8 346.7,405.7 335.9,408.2 C326.3,410.4 317.1,413.7 309.4,417.9 C302.6,421.6 297.4,426.1 291.8,431.2 C285.6,436.8 279.7,443.2 274.1,450.6 C267.8,458.9 261.5,468.7 256.5,478.8 C251.3,489.3 247.9,501.2 243.6,512.4" fill="none" stroke="#A80036" stroke-width="1"/>
<path d="M1404.5,339.0 L1397.7,335.2 L1391.5,340.0 L1398.4,343.8 Z" fill="#A80036" stroke="#A80036" stroke-width="1"/>
<path d="M1391.5,340.0 C1391.7,340.0 1392.0,340.0 1392.0,340.0 C1392.0,340.0 1247.8,350.7 1200.0,354.3 C1171.6,356.5 1158.4,357.6 1132.0,359.6 C1095.2,362.4 1048.5,365.9 1000.0,369.7 C940.2,374.4 857.4,381.3 800.0,386.0 C756.7,389.6 720.9,392.3 685.9,395.4 C656.0,398.1 630.1,402.9 602.7,403.5 C576.0,404.1 546.1,400.7 523.5,399.1 C506.7,397.9 494.1,394.9 479.4,395.2 C464.7,395.5 447.7,397.3 435.3,400.9 C425.5,403.7 418.3,407.6 410.0,412.6 C401.0,418.1 390.9,426.0 383.5,432.9 C377.2,438.7 372.5,444.2 367.6,450.6 C362.5,457.2 357.3,463.2 353.5,471.8 C348.7,482.8 347.0,498.9 343.7,512.4" fill="none" stroke="#A80036" stroke-width="1"/>
<path d="M1404.5,336.3 L1397.9,332.2 L1391.5,336.7 L1398.1,340.8 Z" fill="#A80036" stroke="#A80036" stroke-width="1"/>
<path d="M1391.5,336.7 C1391.7,336.7 1392.0,336.7 1392.0,336.7 C1392.0,336.7 1259.7,340.2 1200.0,343.2 C1147.7,345.8 1096.7,350.2 1053.0,353.0 C1017.8,355.3 993.3,355.7 957.6,358.9 C911.6,363.1 844.2,371.3 800.0,377.8 C767.6,382.6 743.3,386.8 716.2,392.4 C690.2,397.8 663.9,402.2 640.5,410.5 C618.8,418.2 596.1,428.8 580.0,439.3 C567.6,447.4 559.7,455.7 550.0,465.3 C539.5,475.7 529.7,488.2 519.5,499.7" fill="none" stroke="#A80036" stroke-width="1"/>
<path d="M1404.5,339.5 L1397.6,335.9 L1391.6,340.8 L1398.5,344.4 Z" fill="#A80036" stroke="#A80036" stroke-width="1"/>
<path d="M1391.6,340.8 C1391.7,340.8 1392.0,340.8 1392.0,340.8 C1392.0,340.7 1247.8,350.8 1200.0,354.3 C1171.6,356.4 1158.3,356.8 1132.0,359.6 C1095.2,363.6 1040.9,371.3 1000.0,377.7 C964.3,383.3 933.0,387.2 900.0,395.5 C866.4,404.0 821.3,418.0 800.0,428.3 C789.0,433.6 784.4,437.7 776.7,443.8 C768.1,450.6 759.6,459.7 751.0,467.7" fill="none" stroke="#A80036" stroke-width="1"/>
<path d="M1404.5,346.6 L1397.5,343.2 L1391.6,348.3 L1398.6,351.7 Z" fill="#A80036" stroke="#A80036" stroke-width="1"/>
<path d="M1391.6,348.3 C1391.7,348.2 1392.0,348.2 1392.0,348.2 C1392.0,348.2 1321.4,357.0 1288.2,362.0 C1257.6,366.6 1229.2,371.1 1200.0,376.8 C1171.0,382.4 1138.9,390.0 1113.5,395.9 C1093.5,400.6 1073.3,405.0 1060.0,409.2 C1051.9,411.8 1047.9,413.7 1040.8,416.7 C1031.8,420.5 1020.5,424.8 1010.6,430.3 C1000.3,436.0 989.3,443.5 980.3,450.5 C972.4,456.7 966.6,462.0 959.2,469.7 C949.6,479.6 938.7,493.9 928.4,506.0" fill="none" stroke="#A80036" stroke-width="1"/>
<path d="M1404.5,356.0 L1397.2,353.2 L1391.8,358.8 L1399.1,361.6 Z" fill="#A80036" stroke="#A80036" stroke-width="1"/>
<path d="M1391.8,358.8 C1392.1,358.7 1392.7,358.6 1392.7,358.6 C1392.8,358.8 1340.2,374.6 1323.3,380.4 C1313.4,383.8 1309.1,385.2 1300.0,389.1 C1286.5,394.9 1265.0,405.7 1250.6,413.3 C1239.2,419.3 1230.5,423.4 1220.3,430.4 C1208.5,438.5 1196.5,448.3 1184.5,459.7 C1170.6,472.9 1156.6,490.6 1142.6,506.0" fill="none" stroke="#A80036" stroke-width="1"/>
<path d="M1493.3,371.0 L1489.0,377.5 L1493.4,384.0 L1497.6,377.5 Z" fill="#A80036" stroke="#A80036" stroke-width="1"/>
<path d="M1493.4,384.0 C1493.4,386.0 1493.4,386.7 1493.4,390.0 C1493.5,404.8 1493.5,471.5 1493.6,512.2" fill="none" stroke="#A80036" stroke-width="1"/>
<path d="M1525.5,371.3 L1525.6,379.1 L1532.8,382.0 L1532.7,374.2 Z" fill="#A80036" stroke="#A80036" stroke-width="1"/>
<path d="M1532.8,382.0 C1532.9,382.1 1532.9,382.1 1533.0,382.3 C1535.8,385.9 1604.1,464.8 1639.7,506.1" fill="none" stroke="#A80036" stroke-width="1"/>
<path d="M1410.0,372.5 C1405.6,375.5 1401.6,377.5 1396.9,381.4 C1390.4,386.8 1381.0,395.9 1375.5,402.7 C1371.3,408.0 1369.3,412.2 1365.8,418.2 C1361.1,426.3 1354.4,437.8 1350.3,447.3 C1346.6,455.9 1343.5,466.8 1342.0,472.6 C1341.2,475.6 1341.1,477.1 1340.6,479.4" fill="none" stroke="#A80036" stroke-width="1" stroke-dasharray="7,7"/>
<path d="M1340.4,480.2 L1338.1,469.5 L1341.3,476.3 L1346.9,471.4 Z" fill="#A80036" stroke="#A80036" stroke-width="1"/>
<text x="1390.6" y="392.2" font-size="13" fill="#222">*</text>
<text x="1335.6" y="469.2" font-size="13" fill="#222">*</text>
<text x="1377.5" y="415.4" font-size="13.5" textLength="105.9" lengthAdjust="spacingAndGlyphs" fill="#000">pathDefL3OutAtt</text>
<path d="M1581.5,352.8 L1586.9,358.4 L1594.2,355.5 L1588.8,350.0 Z" fill="#A80036" stroke="#A80036" stroke-width="1"/>
<path d="M1594.2,355.5 C1596.1,356.0 1597.0,356.0 1600.0,356.8 C1611.0,359.6 1653.5,371.4 1676.5,379.7 C1696.2,386.7 1713.2,395.1 1730.1,402.2 C1745.2,408.6 1759.9,413.9 1773.0,420.4 C1784.7,426.2 1794.7,431.3 1805.1,438.6 C1816.2,446.5 1827.0,456.5 1837.3,466.5 C1847.9,476.7 1857.6,488.4 1867.8,499.3" fill="none" stroke="#A80036" stroke-width="1"/>
<path d="M1581.5,344.7 L1587.4,349.8 L1594.4,346.4 L1588.5,341.3 Z" fill="#A80036" stroke="#A80036" stroke-width="1"/>
<path d="M1594.4,346.4 C1596.3,346.7 1596.9,346.8 1600.0,347.2 C1614.9,349.1 1686.9,357.1 1730.1,363.6 C1773.2,370.1 1820.2,378.7 1858.7,386.1 C1890.2,392.2 1919.5,397.2 1944.5,404.3 C1964.7,410.0 1982.7,416.8 1998.1,423.6 C2010.4,429.1 2020.3,435.4 2030.3,440.8 C2039.0,445.5 2046.6,449.7 2054.8,454.2" fill="none" stroke="#A80036" stroke-width="1"/>
<path d="M1581.5,340.5 L1587.6,345.3 L1594.5,341.5 L1588.3,336.7 Z" fill="#A80036" stroke="#A80036" stroke-width="1"/>
<path d="M1594.5,341.5 C1594.3,341.5 1594.0,341.5 1594.0,341.5 C1594.0,341.4 1749.0,351.1 1820.0,356.0 C1883.4,360.4 1948.9,363.2 2000.0,369.2 C2038.3,373.7 2066.7,379.2 2100.0,385.4 C2133.4,391.6 2175.4,399.3 2200.0,406.5 C2215.0,410.9 2224.5,415.0 2235.3,419.7 C2244.9,423.9 2253.4,427.1 2261.8,433.0 C2271.1,439.5 2280.2,449.2 2288.3,457.7 C2296.0,465.7 2302.3,473.7 2309.5,482.4 C2317.3,491.9 2325.3,502.5 2333.2,512.5" fill="none" stroke="#A80036" stroke-width="1"/>
<path d="M1581.5,340.0 L1587.6,344.8 L1594.5,341.0 L1588.3,336.2 Z" fill="#A80036" stroke="#A80036" stroke-width="1"/>
<path d="M1594.5,341.0 C1594.3,341.0 1594.0,341.0 1594.0,341.0 C1594.0,340.9 1749.0,350.6 1820.0,355.5 C1883.4,359.9 1938.4,364.3 2000.0,369.0 C2064.9,373.9 2137.1,377.6 2200.0,384.4 C2256.4,390.5 2325.2,401.0 2360.0,406.9 C2377.0,409.8 2385.3,411.4 2397.8,414.4 C2410.5,417.4 2424.2,419.9 2435.6,424.8 C2446.1,429.3 2455.0,434.7 2464.0,441.8 C2473.9,449.6 2483.3,459.3 2492.3,470.2 C2502.5,482.5 2511.5,498.4 2521.1,512.5" fill="none" stroke="#A80036" stroke-width="1"/>
<path d="M1581.5,338.3 L1587.6,343.1 L1594.5,339.3 L1588.3,334.5 Z" fill="#A80036" stroke="#A80036" stroke-width="1"/>
<path d="M1594.5,339.3 C1594.3,339.3 1594.0,339.3 1594.0,339.3 C1594.0,339.2 1749.0,346.7 1820.0,351.6 C1883.4,356.0 1938.4,361.9 2000.0,366.5 C2064.9,371.4 2137.0,375.9 2200.0,380.0 C2256.3,383.6 2313.7,386.8 2360.0,389.9 C2395.6,392.2 2423.8,394.4 2454.5,396.5 C2483.7,398.5 2517.3,399.2 2540.0,402.2 C2555.2,404.2 2565.3,406.3 2577.8,409.7 C2590.5,413.2 2603.4,417.2 2615.7,423.0 C2628.6,429.1 2641.6,437.0 2653.5,445.7 C2665.6,454.6 2677.0,465.6 2687.6,476.0 C2697.7,485.9 2706.3,496.5 2715.7,506.7" fill="none" stroke="#A80036" stroke-width="1"/>
<path d="M1581.5,340.0 L1587.6,344.8 L1594.5,341.0 L1588.3,336.2 Z" fill="#A80036" stroke="#A80036" stroke-width="1"/>
<path d="M1594.5,341.0 C1594.3,341.0 1594.0,341.0 1594.0,341.0 C1594.0,340.9 1749.0,350.6 1820.0,355.5 C1883.4,359.9 1938.4,364.3 2000.0,369.0 C2064.9,373.9 2137.1,379.2 2200.0,384.4 C2256.3,389.0 2316.5,394.9 2360.0,398.4 C2389.9,400.8 2411.4,403.0 2435.6,404.0 C2457.9,404.9 2476.4,404.3 2500.0,404.3 C2529.0,404.2 2568.8,404.9 2596.8,403.5 C2618.2,402.4 2634.6,399.7 2653.5,398.4 C2672.4,397.1 2694.4,395.5 2710.3,395.5 C2721.8,395.5 2729.8,396.0 2740.0,397.0 C2751.0,398.1 2762.7,399.6 2774.0,402.1 C2785.4,404.7 2796.9,408.1 2808.1,412.3 C2819.6,416.6 2831.8,422.0 2842.1,427.7 C2851.5,432.9 2859.5,438.0 2867.7,444.7 C2876.6,452.0 2885.6,462.3 2893.2,470.2 C2899.5,476.8 2904.3,482.8 2910.2,488.9 C2916.2,495.0 2922.6,500.8 2928.8,506.7" fill="none" stroke="#A80036" stroke-width="1"/>
</g>
</svg></body></html>
